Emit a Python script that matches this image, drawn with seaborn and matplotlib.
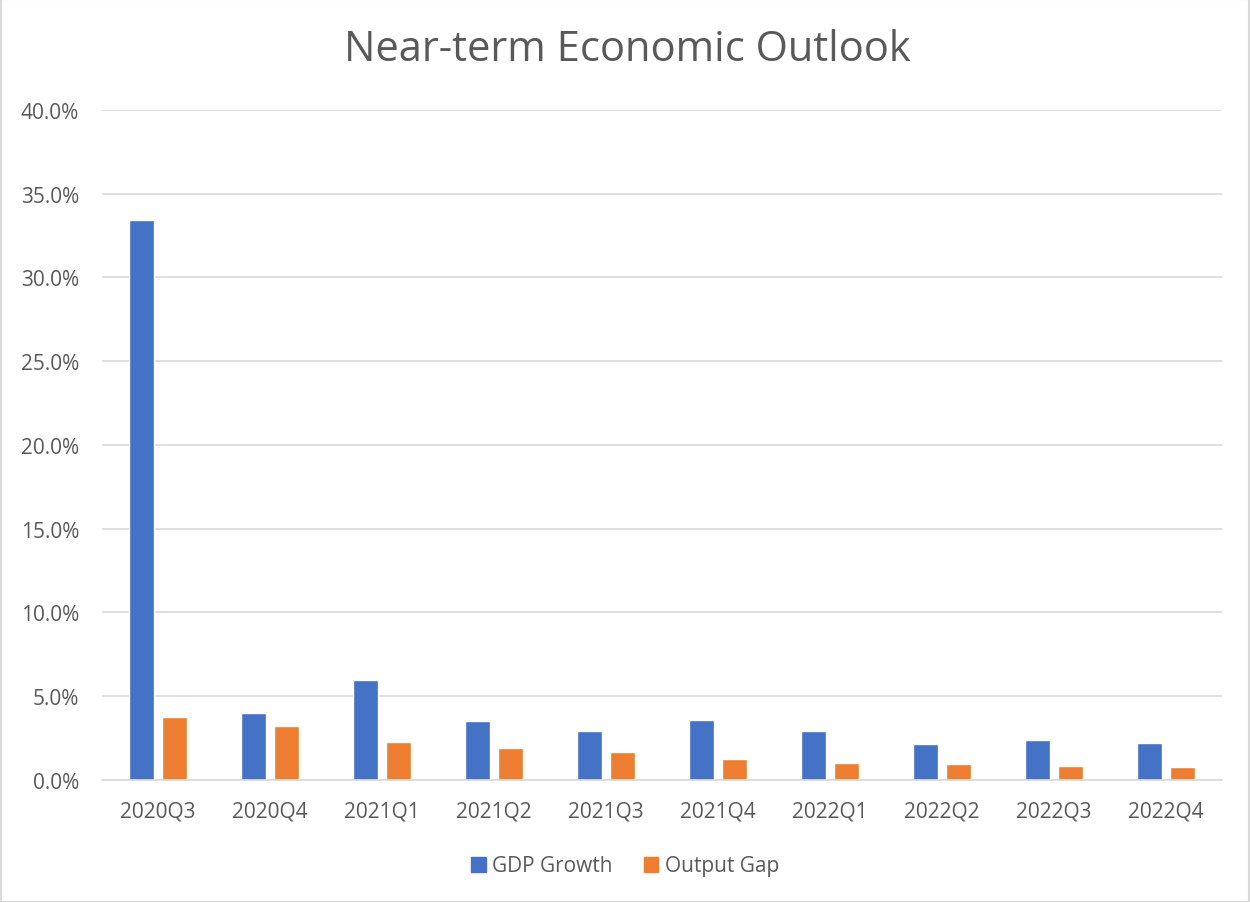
import matplotlib
matplotlib.use("Agg")
import matplotlib.pyplot as plt
import seaborn as sns
import pandas as pd
from matplotlib.ticker import FuncFormatter, MultipleLocator
from matplotlib.patches import Rectangle

quarters = ["2020Q3", "2020Q4", "2021Q1", "2021Q2", "2021Q3",
            "2021Q4", "2022Q1", "2022Q2", "2022Q3", "2022Q4"]
gdp_growth = [33.45, 4.0, 5.96, 3.5, 2.9, 3.58, 2.92, 2.16, 2.4, 2.2]
output_gap = [3.78, 3.24, 2.28, 1.9, 1.66, 1.24, 1.0, 0.98, 0.86, 0.78]
series_names = ["GDP Growth", "Output Gap"]
colors = ["#4472C4", "#ED7D31"]

df = pd.DataFrame({
    "Quarter": quarters * 2,
    "Value": gdp_growth + output_gap,
    "Series": [series_names[0]] * len(quarters) + [series_names[1]] * len(quarters),
})

sns.set_style("white")
plt.rcParams["font.family"] = ["Open Sans", "DejaVu Sans"]
text_color = "#595959"

fig = plt.figure(figsize=(12.5, 9.03), dpi=100)
ax = fig.add_axes([0.0816, 0.1351, 0.896, 0.742])

sns.barplot(data=df, x="Quarter", y="Value", hue="Series", palette=colors,
            width=0.574, gap=0.22, ax=ax, saturation=1, legend=False)

ax.set_ylim(0, 40)
ax.yaxis.set_major_locator(MultipleLocator(5))
ax.yaxis.set_major_formatter(FuncFormatter(lambda v, p: f"{v:.1f}%"))
ax.grid(axis="y", color="#D9D9D9", linewidth=1.2)
ax.set_axisbelow(True)
for s in ["top", "right", "left"]:
    ax.spines[s].set_visible(False)
ax.spines["bottom"].set_color("#D9D9D9")
ax.spines["bottom"].set_linewidth(1.2)
ax.tick_params(axis="both", length=0, labelsize=15, colors=text_color)
ax.tick_params(axis="x", pad=15)
ax.tick_params(axis="y", pad=16.5)
ax.set_xlabel("")
ax.set_ylabel("")
ax.set_xlim(-0.5, len(quarters) - 0.5)

fig.text(0.5016, 1 - 50 / 903, "Near-term Economic Outlook", ha="center", va="center",
         fontsize=30, color=text_color)

handles = [Rectangle((0, 0), 1, 1, color=c) for c in colors]
fig.legend(handles, series_names, loc="center", bbox_to_anchor=(0.5, 1 - 867 / 903),
           ncol=2, frameon=False, fontsize=15, labelcolor=text_color,
           handlelength=0.7, handleheight=0.7, handletextpad=0.3, columnspacing=1.5)

fig.patches.append(Rectangle((0.0005, 0.0005), 0.999, 0.999, transform=fig.transFigure,
                             fill=False, edgecolor="#D9D9D9", linewidth=1.5))

fig.savefig("out.png", dpi=100, facecolor="white")
